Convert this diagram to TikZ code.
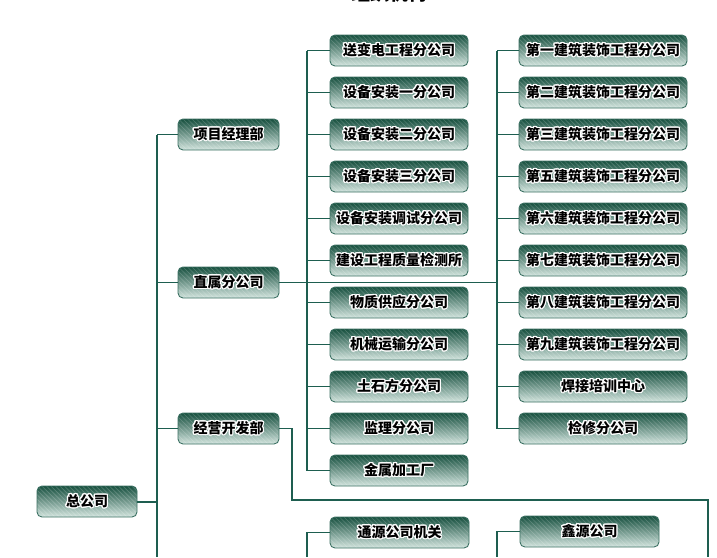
\documentclass[tikz,border=0pt]{standalone}
\usepackage{fontspec}
\newfontfamily\cjk{Noto Sans CJK SC}
\usepackage{contour}
\contourlength{1.1pt}
\definecolor{ln}{HTML}{1E5E50}
\definecolor{bxtop}{HTML}{17503F}
\definecolor{bxmid}{HTML}{6A9E90}
\definecolor{bxbot}{HTML}{D3E5DF}
\definecolor{bd}{HTML}{3C7163}
\newcommand{\bt}[1]{\contour{white}{#1}}
\begin{document}
\begin{tikzpicture}[x=1pt,y=-1pt,
  box/.style={rounded corners=5pt, draw=bd, line width=0.9pt,
    top color=bxtop, middle color=bxmid, bottom color=bxbot,
    inner sep=0pt, minimum height=31pt,
    font=\cjk\bfseries\fontsize{14}{14}\selectfont,
    path picture={\foreach \i in {-40,-35.5,...,180}
      \draw[white, opacity=0.2, line width=0.7pt]
        (path picture bounding box.north west) ++(\i pt,0pt) -- ++(45pt,-45pt);}},
  lbox/.style={box, minimum width=101pt},
  mbox/.style={box, minimum width=138pt},
  rbox/.style={box, minimum width=168pt},
  conn/.style={draw=ln, line width=1.2pt}]
\useasboundingbox (0,0) rectangle (717,557);
\fill[white] (0,0) rectangle (717,557);
% clipped title
\node[font=\cjk\bfseries\fontsize{19}{19}\selectfont, anchor=base] (title) at (389,0.3) {组织机构};
% trunk coordinates
\coordinate (lt) at (157,134.5);
\coordinate (lb) at (157,557);
\coordinate (mt) at (307,50.5);
\coordinate (rt) at (497,50.5);
\coordinate (jyc) at (292,500);
\coordinate (eg1) at (708,500);
\coordinate (eg2) at (708,557);
\coordinate (bot) at (0,557);
% nodes
\node[box, minimum width=100pt] (zg) at (87,501.5) {\bt{总公司}};
\node[lbox] (xm) at (228.5,134.5) {\bt{项目经理部}};
\node[lbox] (zs) at (228.5,282.5) {\bt{直属分公司}};
\node[lbox] (jy) at (228.5,428.5) {\bt{经营开发部}};
\node[mbox] (m1) at (399,50.5) {\bt{送变电工程分公司}};
\node[mbox] (m2) at (399,92.5) {\bt{设备安装一分公司}};
\node[mbox] (m3) at (399,134.5) {\bt{设备安装二分公司}};
\node[mbox] (m4) at (399,176.5) {\bt{设备安装三分公司}};
\node[mbox] (m5) at (399,218.5) {\bt{设备安装调试分公司}};
\node[mbox] (m6) at (399,260.5) {\bt{建设工程质量检测所}};
\node[mbox] (m7) at (399,302.5) {\bt{物质供应分公司}};
\node[mbox] (m8) at (399,344.5) {\bt{机械运输分公司}};
\node[mbox] (m9) at (399,386.5) {\bt{土石方分公司}};
\node[mbox] (m10) at (399,428.5) {\bt{监理分公司}};
\node[mbox] (m11) at (399,470.5) {\bt{金属加工厂}};
\node[rbox] (r1) at (603,50.5) {\bt{第一建筑装饰工程分公司}};
\node[rbox] (r2) at (603,92.5) {\bt{第二建筑装饰工程分公司}};
\node[rbox] (r3) at (603,134.5) {\bt{第三建筑装饰工程分公司}};
\node[rbox] (r4) at (603,176.5) {\bt{第五建筑装饰工程分公司}};
\node[rbox] (r5) at (603,218.5) {\bt{第六建筑装饰工程分公司}};
\node[rbox] (r6) at (603,260.5) {\bt{第七建筑装饰工程分公司}};
\node[rbox] (r7) at (603,302.5) {\bt{第八建筑装饰工程分公司}};
\node[rbox] (r8) at (603,344.5) {\bt{第九建筑装饰工程分公司}};
\node[rbox] (r9) at (603,386.5) {\bt{焊接培训中心}};
\node[rbox] (r10) at (603,428.5) {\bt{检修分公司}};
\node[mbox, minimum width=139pt] (ty) at (399.5,532.5) {\bt{通源公司机关}};
\node[mbox, minimum width=139pt] (xy) at (589.5,531.5) {\bt{鑫源公司}};
% connectors
\draw[conn, line width=2pt] (zg.east) -- (zg.east -| lt);
\draw[conn] (lt) -- (lb);
\foreach \n in {xm,zs,jy} \draw[conn] (\n.west) -- (\n.west -| lt);
\draw[conn] (mt) -- (m11.west -| mt);
\foreach \n in {m1,m2,m3,m4,m5,m6,m7,m8,m9,m10,m11} \draw[conn] (\n.west) -- (\n.west -| mt);
\draw[conn] (zs.east) -- (zs.east -| rt);
\draw[conn] (rt) -- (r10.west -| rt);
\foreach \n in {r1,r2,r3,r4,r5,r6,r7,r8,r9,r10} \draw[conn] (\n.west) -- (\n.west -| rt);
\draw[conn] (jy.east) -| (jyc) -- (eg1) -- (eg2);
\draw[conn] (ty.west) -- (ty.west -| mt) -- (bot -| mt);
\draw[conn] (xy.west) -- (xy.west -| rt) -- (bot -| rt);
\end{tikzpicture}
\end{document}
